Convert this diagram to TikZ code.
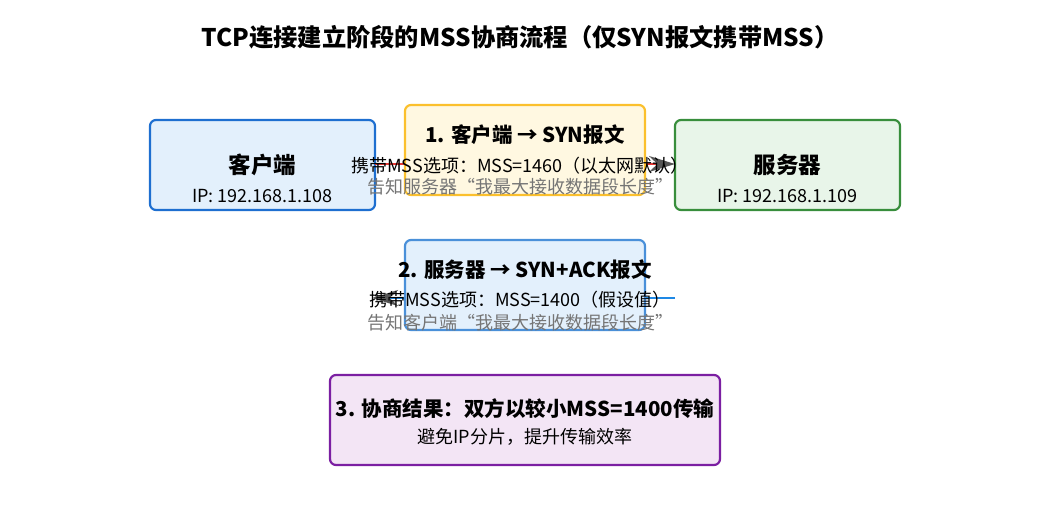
\documentclass[tikz,border=0pt]{standalone}
\usepackage{fontspec}
\setmainfont{Noto Sans CJK SC}
\usetikzlibrary{arrows.meta}
\definecolor{cliB}{HTML}{1E6FD0}
\definecolor{cliF}{HTML}{E3F0FC}
\definecolor{srvB}{HTML}{388E3C}
\definecolor{srvF}{HTML}{E8F5E9}
\definecolor{s1B}{HTML}{FBC02D}
\definecolor{s1F}{HTML}{FFF8E1}
\definecolor{s2B}{HTML}{4A90D9}
\definecolor{s2F}{HTML}{E3F0FC}
\definecolor{s3B}{HTML}{7B1FA2}
\definecolor{s3F}{HTML}{F3E5F5}
\definecolor{arrR}{HTML}{E53935}
\definecolor{arrB}{HTML}{1E88E5}
\definecolor{headG}{HTML}{555555}
\definecolor{subG}{HTML}{757575}
\begin{document}
\begin{tikzpicture}[x=1pt,y=-1pt,
  box/.style={draw,rounded corners=6pt,line width=2.2pt,minimum width=#1,minimum height=90pt,inner sep=0pt},
  boxtitle/.style={font=\fontsize{22.5}{24}\selectfont\bfseries,inner sep=0pt},
  steptitle/.style={font=\fontsize{20.5}{22}\selectfont\bfseries,inner sep=0pt},
  bodytext/.style={font=\fontsize{18}{20}\selectfont,inner sep=0pt},
  graytext/.style={font=\fontsize{18}{20}\selectfont,text=subG,inner sep=0pt},
  flow/.style={line width=2pt,-{Stealth[length=26pt,width=16pt,color=headG]}}
]
\useasboundingbox (0,0) rectangle (1050,525);
\node[font=\fontsize{24.3}{26}\selectfont\bfseries,inner sep=0pt] (title) at (520,37) {TCP连接建立阶段的MSS协商流程（仅SYN报文携带MSS）};
% endpoints
\node[box=225pt,fill=cliF,draw=cliB] (cli) at (262.5,165) {};
\node[box=225pt,fill=srvF,draw=srvB] (srv) at (787.5,165) {};
% arrows
\coordinate (a1s) at (375,164);
\coordinate (a1e) at (675,164);
\coordinate (a2s) at (675,298);
\coordinate (a2e) at (372,298);
\draw[flow,draw=arrR] (a1s) -- (a1e);
\draw[flow,draw=arrB] (a2s) -- (a2e);
% step boxes
\node[box=240pt,fill=s1F,draw=s1B] (s1) at (525,150) {};
\node[box=240pt,fill=s2F,draw=s2B] (s2) at (525,285) {};
\node[box=390pt,fill=s3F,draw=s3B] (s3) at (525,420) {};
% texts
\node[boxtitle] (clit) at (262.5,165) {客户端};
\node[bodytext] (clii) at (262.5,196) {IP: 192.168.1.108};
\node[boxtitle] (srvt) at (787.5,165) {服务器};
\node[bodytext] (srvi) at (787.5,196) {IP: 192.168.1.109};
\node[steptitle] (s1t) at (525,135) {1. 客户端 → SYN报文};
\node[bodytext] (s1a) at (520,166) {携带MSS选项：MSS=1460（以太网默认）};
\node[graytext] (s1b) at (520,187) {告知服务器“我最大接收数据段长度”};
\node[steptitle] (s2t) at (525,270) {2. 服务器 → SYN+ACK报文};
\node[bodytext] (s2a) at (520,300) {携带MSS选项：MSS=1400（假设值）};
\node[graytext] (s2b) at (520,323) {告知客户端“我最大接收数据段长度”};
\node[steptitle] (s3t) at (525,409) {3. 协商结果：双方以较小MSS=1400传输};
\node[bodytext] (s3a) at (525,437) {避免IP分片，提升传输效率};
\end{tikzpicture}
\end{document}
